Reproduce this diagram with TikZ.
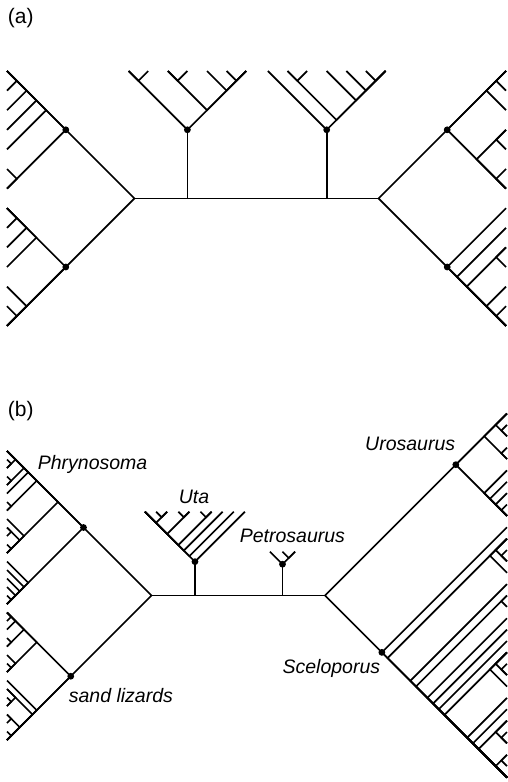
\documentclass[tikz,border=0pt]{standalone}
\usepackage{fontspec}
\setmainfont{Liberation Sans}
\newcommand\cl[2]{\draw (0,{\tsp*#1}) -- ({\tsp*(#2-#1)/2},{\tsp*(#1+#2)/2}) -- (0,{\tsp*#2});}
\newcommand\cu[2]{\draw ({\tsp*#1},0) -- ({\tsp*(#1+#2)/2},{\tsp*(#2-#1)/2}) -- ({\tsp*#2},0);}
\begin{document}
\begin{tikzpicture}[x=1pt,y=-1pt,line width=1.7pt,
  dot/.style={fill=black},
  lab/.style={font=\fontsize{19.5}{21}\selectfont\itshape,inner sep=0pt,anchor=base west},
  plab/.style={font=\fontsize{21}{23}\selectfont,inner sep=0pt,anchor=base west}]
\useasboundingbox (0,0) rectangle (508,782);
% ---------------- panel (a)
\node[plab] (la) at (7,23) {(a)};
\def\tsp{19.6}
\begin{scope}[shift={(7,71)}]
  \foreach \a/\b in {0/1,0/2,0/3,0/4,5/6,0/6,7/8,7/9,7/10,12/13,11/13,7/13,0/13}{\cl{\a}{\b}}
  \coordinate (aL) at ({\tsp*13/2},{\tsp*13/2});
  \coordinate (aL1) at ({\tsp*3},{\tsp*3});
  \coordinate (aL2) at ({\tsp*3},{\tsp*10});
\end{scope}
\begin{scope}[shift={(506,71)},xscale=-1]
  \foreach \a/\b in {0/1,0/2,3/4,5/6,3/6,0/6,12/13,11/13,9/10,9/13,8/13,7/13,0/13}{\cl{\a}{\b}}
  \coordinate (aR) at ({\tsp*13/2},{\tsp*13/2});
  \coordinate (aR1) at ({\tsp*3},{\tsp*3});
  \coordinate (aR2) at ({\tsp*3},{\tsp*10});
\end{scope}
\begin{scope}[shift={(128.6,71)}]
  \foreach \a/\b in {0/1,2/3,5/6,4/6,2/6,0/6}{\cu{\a}{\b}}
  \coordinate (aT1) at ({\tsp*3},{\tsp*3});
\end{scope}
\begin{scope}[shift={(267.9,71)}]
  \foreach \a/\b in {1/2,5/6,4/6,3/6,1/6,0/6}{\cu{\a}{\b}}
  \coordinate (aT2) at ({\tsp*3},{\tsp*3});
\end{scope}
\draw (aL) -- (aR);
\draw (aT1) -- (aT1 |- aL);
\draw (aT2) -- (aT2 |- aL);
\foreach \p in {aL1,aL2,aR1,aR2,aT1,aT2}{\fill[dot] (\p) circle (3.4pt);}
% ---------------- panel (b)
\node[plab] (lb) at (7,416) {(b)};
\def\tsp{8.5}
\begin{scope}[shift={(7,451)}]
  \foreach \a/\b in {1/2,0/2,3/4,0/4,0/5,6/7,0/7,9/10,11/12,9/12,8/12,0/12,
                     17/18,16/18,15/18,14/18,13/18,0/18,
                     19/20,19/21,22/23,19/23,25/26,24/26,19/26,
                     29/30,28/30,31/32,33/34,31/34,28/34,27/34,19/34,0/34}{\cl{\a}{\b}}
  \coordinate (bL) at ({\tsp*17},{\tsp*17});
  \coordinate (bL1) at ({\tsp*9},{\tsp*9});
  \coordinate (bL2) at ({\tsp*7.5},{\tsp*26.5});
\end{scope}
\def\tsp{11.375}
\begin{scope}[shift={(507,413.5)},xscale=-1]
  \foreach \a/\b in {1/2,0/2,3/4,0/4,8/9,7/9,6/9,5/9,0/9,
                     12/13,11/13,11/14,16/17,22/23,21/23,21/24,
                     28/29,27/29,30/31,30/32,27/32,26/32,25/32,21/32,20/32,19/32,18/32,16/32,15/32,11/32,10/32,0/32}{\cl{\a}{\b}}
  \coordinate (bR) at ({\tsp*16},{\tsp*16});
  \coordinate (bR1) at ({\tsp*4.5},{\tsp*4.5});
  \coordinate (bR2) at ({\tsp*11},{\tsp*21});
\end{scope}
\def\tsp{11.1}
\begin{scope}[shift={(145,511.7)}]
  \foreach \a/\b in {1/2,0/2,3/4,0/4,5/6,0/6,0/7,0/8,0/9}{\cu{\a}{\b}}
  \coordinate (bU) at ({\tsp*4.5},{\tsp*4.5});
\end{scope}
\def\tsp{12.5}
\begin{scope}[shift={(270,551.7)}]
  \foreach \a/\b in {1/2,0/2}{\cu{\a}{\b}}
  \coordinate (bP) at ({\tsp*1},{\tsp*1});
\end{scope}
\draw (bL) -- (bR);
\draw (bU) -- (bU |- bL);
\draw (bP) -- (bP |- bL);
\foreach \p in {bL1,bL2,bR1,bR2,bU,bP}{\fill[dot] (\p) circle (3.4pt);}
\node[lab] (tPh) at (37,469) {Phrynosoma};
\node[lab] (tSa) at (68,702) {sand lizards};
\node[lab] (tUt) at (178,503) {Uta};
\node[lab] (tPe) at (239,542) {Petrosaurus};
\node[lab,anchor=base east] (tUr) at (456,450) {Urosaurus};
\node[lab,anchor=base east] (tSc) at (381,673) {Sceloporus};
\end{tikzpicture}
\end{document}
